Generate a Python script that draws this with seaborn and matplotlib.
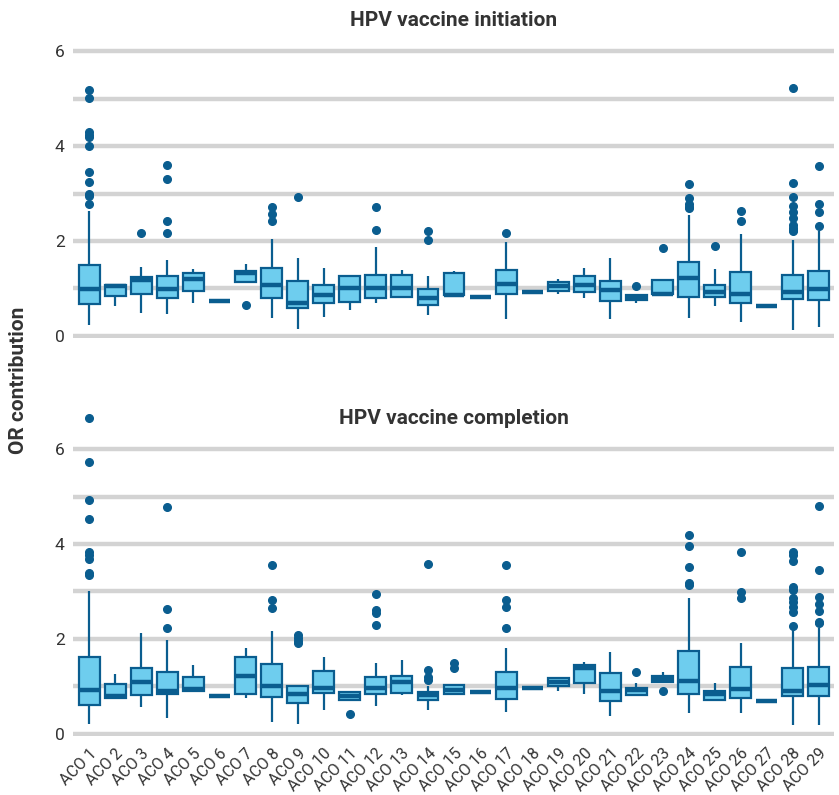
import pandas as pd
import seaborn as sns
import matplotlib.pyplot as plt

# ACO labels
acos = [f"ACO {i}" for i in range(1, 30)]

# ---- HPV vaccine initiation: box stats ----
init_lo = [0.23, 0.63, 0.47, 0.45, 0.70, 0.73, 1.14, 0.38, 0.15, 0.40,
           0.54, 0.70, 0.82, 0.44, 0.85, 0.82, 0.35, 0.92, 0.88, 0.80,
           0.35, 0.68, 0.87, 0.38, 0.63, 0.30, 0.63, 0.13, 0.19]
init_q1 = [0.66, 0.83, 0.88, 0.80, 0.95, 0.73, 1.14, 0.80, 0.59, 0.70,
           0.71, 0.80, 0.82, 0.65, 0.85, 0.82, 0.87, 0.92, 0.95, 0.92,
           0.73, 0.75, 0.87, 0.82, 0.82, 0.68, 0.63, 0.78, 0.76]
init_med = [0.98, 1.04, 1.18, 0.98, 1.19, 0.73, 1.33, 1.08, 0.70, 0.85,
            1.01, 1.00, 1.00, 0.80, 0.85, 0.82, 1.09, 0.92, 1.04, 1.07,
            0.97, 0.80, 0.89, 1.21, 0.92, 0.87, 0.63, 0.93, 0.98]
init_q3 = [1.49, 1.07, 1.24, 1.27, 1.32, 0.73, 1.37, 1.42, 1.16, 1.07,
           1.26, 1.29, 1.28, 0.98, 1.32, 0.82, 1.38, 0.92, 1.13, 1.25,
           1.15, 0.85, 1.18, 1.56, 1.07, 1.35, 0.63, 1.28, 1.37]
init_hi = [2.64, 1.07, 1.44, 1.60, 1.40, 0.73, 1.51, 2.04, 1.63, 1.43,
           1.29, 1.87, 1.39, 1.27, 1.36, 0.82, 1.98, 0.92, 1.20, 1.42,
           1.64, 0.85, 1.18, 2.54, 1.40, 2.14, 0.63, 2.01, 2.20]
init_out = [
    [5.19, 5.01, 4.29, 4.24, 4.20, 4.01, 3.45, 3.25, 2.99, 2.95, 2.77],
    [], [2.16], [3.61, 3.31, 2.41, 2.16], [], [], [0.65],
    [2.71, 2.56, 2.43], [2.92], [], [], [2.71, 2.22], [], [2.20, 2.01],
    [], [], [2.17], [], [], [], [], [1.04], [1.85],
    [3.21, 2.91, 2.78, 2.72, 2.69], [1.90], [2.63, 2.42], [],
    [5.23, 3.23, 2.92, 2.73, 2.61, 2.48, 2.33, 2.28, 2.23, 2.20],
    [3.59, 2.77, 2.62, 2.31],
]

# ---- HPV vaccine completion ----
comp_lo = [0.20, 0.75, 0.56, 0.34, 0.90, 0.79, 0.75, 0.25, 0.20, 0.49,
           0.72, 0.58, 0.81, 0.49, 0.84, 0.87, 0.46, 0.97, 0.90, 0.84,
           0.37, 0.79, 1.10, 0.44, 0.68, 0.43, 0.70, 0.18, 0.18]
comp_q1 = [0.60, 0.75, 0.82, 0.83, 0.90, 0.79, 0.84, 0.78, 0.65, 0.86,
           0.72, 0.84, 0.86, 0.72, 0.84, 0.87, 0.73, 0.97, 1.01, 1.08,
           0.69, 0.82, 1.10, 0.83, 0.72, 0.76, 0.70, 0.79, 0.80]
comp_med = [0.92, 0.80, 1.10, 0.90, 0.94, 0.79, 1.22, 1.01, 0.84, 0.97,
            0.80, 0.97, 1.09, 0.82, 0.92, 0.87, 0.97, 0.97, 1.10, 1.38,
            0.91, 0.92, 1.15, 1.12, 0.84, 0.95, 0.70, 0.91, 1.03]
comp_q3 = [1.61, 1.04, 1.39, 1.31, 1.20, 0.79, 1.61, 1.48, 1.01, 1.33,
           0.89, 1.20, 1.22, 0.88, 1.03, 0.87, 1.31, 0.97, 1.17, 1.46,
           1.29, 0.97, 1.22, 1.74, 0.91, 1.41, 0.70, 1.38, 1.41]
comp_hi = [3.02, 1.27, 2.12, 1.97, 1.46, 0.79, 1.80, 2.17, 1.01, 1.61,
           0.91, 1.50, 1.55, 1.01, 1.03, 0.87, 1.80, 0.97, 1.17, 1.52,
           1.73, 1.07, 1.31, 2.86, 1.08, 1.91, 0.70, 2.19, 2.22]
comp_out = [
    [6.65, 5.74, 4.92, 4.52, 3.84, 3.76, 3.68, 3.38, 3.35],
    [], [], [4.78, 2.63, 2.22], [], [], [],
    [3.55, 2.82, 2.65], [2.08, 2.01, 1.96, 1.91], [], [0.42],
    [2.94, 2.60, 2.55, 2.29], [], [3.59, 1.34, 1.19, 1.14],
    [1.50, 1.38], [], [3.55, 2.83, 2.67, 2.22], [], [], [], [],
    [1.31], [0.90], [4.19, 3.97, 3.51, 3.17, 3.14], [],
    [3.83, 2.98, 2.87], [],
    [3.84, 3.78, 3.64, 3.10, 3.03, 2.86, 2.77, 2.68, 2.57, 2.28],
    [4.80, 3.46, 2.88, 2.74, 2.58, 2.36, 2.34],
]


def build_frame(lo, q1, med, q3, hi, out):
    # expand the read box stats into sample values that reproduce them
    rows = []
    for i, name in enumerate(acos):
        vals = [lo[i], hi[i]] + [q1[i]] * 30 + [med[i]] * 30 + [q3[i]] * 30 + out[i]
        rows += [(name, v) for v in vals]
    return pd.DataFrame(rows, columns=["aco", "value"])


init_df = build_frame(init_lo, init_q1, init_med, init_q3, init_hi, init_out)
comp_df = build_frame(comp_lo, comp_q1, comp_med, comp_q3, comp_hi, comp_out)

sns.set_style("white")
plt.rcParams["font.family"] = ["Roboto", "DejaVu Sans"]

fill = "#6ecdee"
edge = "#0a5d8f"
grid_col = "#d3d3d3"
text_col = "#333333"

W, H = 839, 795
fig = plt.figure(figsize=(W / 100, H / 100), dpi=100)
ax_top = fig.add_axes([73 / W, 1 - 338.1 / H, 761 / W, 310.5 / H])
ax_bot = fig.add_axes([73 / W, 1 - 736.1 / H, 761 / W, 329.5 / H])

for ax, df, ylim in [(ax_top, init_df, (-0.05, 6.5)), (ax_bot, comp_df, (-0.05, 6.9))]:
    sns.boxplot(data=df, x="aco", y="value", ax=ax, width=0.8, saturation=1,
                color=fill, linecolor=edge, linewidth=1.6, whis=1.5,
                showcaps=False,
                medianprops=dict(color=edge, linewidth=3.2),
                flierprops=dict(marker="o", markersize=5.5, markerfacecolor=edge,
                                markeredgecolor=edge))
    ax.set_xlim(-0.62, 28.58)
    ax.set_ylim(*ylim)
    ax.set_yticks([0, 2, 4, 6])
    ax.set_yticks([1, 3, 5], minor=True)
    ax.grid(axis="y", which="both", color=grid_col, linewidth=3.2)
    ax.set_axisbelow(True)
    sns.despine(ax=ax, left=True, bottom=True)
    ax.tick_params(axis="y", which="both", length=0, pad=6, labelsize=12.5,
                   labelcolor=text_col)
    ax.set_xlabel("")
    ax.set_ylabel("")

ax_top.tick_params(axis="x", length=0, labelbottom=False)
ax_bot.tick_params(axis="x", length=6, width=3, color=grid_col, pad=1,
                   labelsize=11.5, labelcolor=text_col)
for lab in ax_bot.get_xticklabels():
    lab.set_rotation(45)
    lab.set_ha("right")
    lab.set_rotation_mode("anchor")

fig.text(453.5 / W, 1 - 20.5 / H, "HPV vaccine initiation", ha="center", va="center",
         fontsize=15, fontweight="bold", color=text_col)
fig.text(453.5 / W, 1 - 418 / H, "HPV vaccine completion", ha="center", va="center",
         fontsize=15, fontweight="bold", color=text_col)
fig.text(19 / W, 1 - 380 / H, "OR contribution", rotation=90, ha="center", va="center",
         fontsize=15, fontweight="bold", color=text_col)

fig.savefig("out.png", dpi=100)
